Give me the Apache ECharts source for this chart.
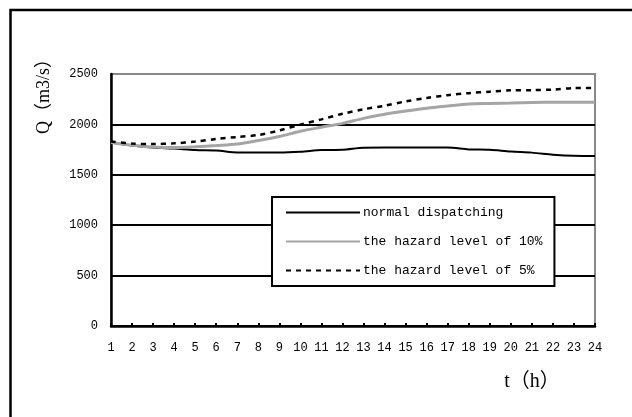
<!DOCTYPE html>
<html>
<head>
<meta charset="utf-8">
<script src="https://cdn.jsdelivr.net/npm/echarts@6/dist/echarts.min.js"></script>
<style>html,body{margin:0;padding:0;background:#fff;}#c{width:632px;height:417px;}</style>
</head>
<body>
<div id="c"></div>
<script>
var hours = ['1','2','3','4','5','6','7','8','9','10','11','12','13','14','15','16','17','18','19','20','21','22','23','24'];
var yTicks = [0, 500, 1000, 1500, 2000, 2500];
var seriesNames = ['normal dispatching', 'the hazard level of 10%', 'the hazard level of 5%'];
var normalDispatching = [1820,1790,1770,1760,1745,1740,1722,1720,1720,1728,1745,1748,1768,1770,1770,1770,1770,1752,1748,1730,1720,1700,1688,1686];
var hazard10 = [1820,1793,1775,1770,1778,1790,1805,1840,1880,1932,1972,2010,2060,2100,2132,2160,2182,2202,2208,2212,2218,2220,2220,2220];
var hazard5 = [1830,1810,1805,1812,1830,1855,1875,1895,1940,1998,2050,2105,2150,2185,2228,2262,2290,2310,2325,2338,2340,2345,2360,2362];

var mono = 'Liberation Mono';
var chart = echarts.init(document.getElementById('c'), null, {renderer: 'canvas'});
chart.setOption({
  animation: false,
  backgroundColor: '#ffffff',
  grid: {left: 111, top: 74, right: 37, bottom: 91, show: true, borderColor: '#888888', borderWidth: 2, backgroundColor: 'transparent'},
  legend: {
    orient: 'vertical',
    left: 272, top: 197,
    data: seriesNames,
    itemWidth: 74, itemHeight: 14, itemGap: 16,
    padding: [9, 12, 9, 13],
    borderColor: '#000', borderWidth: 2, backgroundColor: '#ffffff',
    itemStyle: {opacity: 0},
    textStyle: {fontFamily: mono, fontSize: 13, color: '#000', padding: [0,0,0,-2]}
  },
  xAxis: {
    type: 'category', data: hours, boundaryGap: false,
    axisLine: {show: true, lineStyle: {color: '#000', width: 2.5}},
    axisTick: {show: true, inside: true, length: 3, lineStyle: {color: '#000', width: 2}},
    axisLabel: {fontFamily: mono, fontSize: 12, color: '#000', margin: 16, interval: 0},
    splitLine: {show: false}
  },
  yAxis: {
    type: 'value', min: yTicks[0], max: yTicks[yTicks.length-1], interval: 500,
    axisLine: {show: true, lineStyle: {color: '#000', width: 2.5}},
    axisTick: {show: false},
    axisLabel: {fontFamily: mono, fontSize: 12, color: '#000', margin: 13, formatter: function (v) { return String(v); }},
    splitLine: {show: true, lineStyle: {color: ['#000','#000','#000','#000','#000','#888888'], width: 2}}
  },
  graphic: [
    {type: 'rect', shape: {x: 10.5, y: 10, width: 700, height: 500}, style: {fill: 'none', stroke: '#000', lineWidth: 2.5}, silent: true, z: 100},
    {type: 'text', x: 44, y: 92, rotation: Math.PI/2, style: {text: 'Q（m3/s）', font: '18px "Liberation Serif", "Noto Sans CJK SC", serif', fill: '#000', align: 'center', verticalAlign: 'middle'}},
    {type: 'text', x: 532, y: 382, style: {text: 't（h）', font: '20px "Liberation Serif", "Noto Sans CJK SC", serif', fill: '#000', align: 'center', verticalAlign: 'middle'}}
  ],
  series: [
    {name: seriesNames[0], type: 'line', data: normalDispatching, symbol: 'none', smooth: 0.3, lineStyle: {color: '#000', width: 2}, itemStyle: {color: '#000'}, z: 3},
    {name: seriesNames[1], type: 'line', data: hazard10, symbol: 'none', smooth: 0.3, lineStyle: {color: '#a5a5a5', width: 3}, itemStyle: {color: '#a5a5a5'}, z: 4},
    {name: seriesNames[2], type: 'line', data: hazard5, symbol: 'none', smooth: 0.3, lineStyle: {color: '#000', width: 2.5, type: [5, 5]}, itemStyle: {color: '#000'}, z: 5}
  ]
});
</script>
</body>
</html>
